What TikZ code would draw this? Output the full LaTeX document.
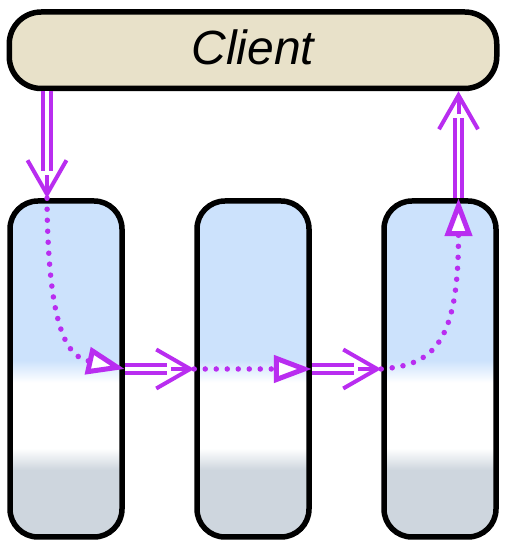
\documentclass[tikz,border=0pt]{standalone}
\usepackage{fontspec}
\setmainfont{Liberation Sans}
\usetikzlibrary{positioning, arrows.meta, calc}

\definecolor{clientfill}{RGB}{232,225,201}
\definecolor{colblue}{RGB}{204,226,252}
\definecolor{colgray}{RGB}{206,214,222}
\definecolor{flow}{RGB}{185,45,240}

% 列的分段渐变 (自下而上)
\pgfdeclareverticalshading{colbands}{100bp}{color(0bp)=(colgray); color(35bp)=(colgray); color(38.2bp)=(white); color(48bp)=(white); color(51.3bp)=(colblue); color(100bp)=(colblue)}

\tikzset{
    box/.style={draw=black, line width=5.5pt, inner sep=0pt},
    clientbox/.style={box, fill=clientfill, rounded corners=32pt, minimum width=487.5pt, minimum height=76.5pt,
        text depth=6pt, font=\fontsize{48}{56}\selectfont\itshape},
    column/.style={box, rounded corners=28pt, minimum width=112pt, minimum height=336pt, shading=colbands},
    shaft/.style={draw=flow, double=white, double distance=3.5pt, line width=4pt},
    tipline/.style={draw=flow, line width=4pt, -{Straight Barb[length=34pt, width=39pt]}},
    dotline/.style={draw=flow, line width=5.5pt, line cap=round, dash pattern=on 0pt off 11pt,
        -{Triangle[length=38pt, width=27pt, line width=5pt, fill=white]}}
}

% 双线箭头: 双线杆 + 单线尖
\newcommand\flowarrow[2]{%
    \draw[shaft, shorten >=27pt] (#1) -- (#2);
    \draw[tipline] ($(#2)!23pt!(#1)$) -- (#2);
}

\begin{document}
\begin{tikzpicture}[x=1pt, y=1pt]

    \useasboundingbox (0,0) rectangle (510,549);

    % --- 三列与客户端 ---
    \node[column] (s1) at (66,180) {};
    \node[column, right=69.5pt of s1] (s2) {};
    \node[column, right=69.5pt of s2] (s3) {};
    \node[clientbox, above=107pt of s2] (client) {Client};

    % 进出点
    \coordinate (inTop) at ([xshift=-19pt]s1.north);
    \coordinate (inSrc) at (inTop |- client.south);
    \coordinate (outBot) at ([xshift=18.5pt]s3.north);
    \coordinate (outDst) at (outBot |- client.south);

    % --- 列内点线 ---
    \draw[dotline] (inTop) .. controls +(1,-141) and +(-54,12) .. (s1.east);
    \draw[dotline] (s2.west) -- (s2.east);
    \draw[dotline] (s3.west) .. controls +(51,4) and +(0,-147) .. (outBot);

    % --- 双线箭头 ---
    \flowarrow{inSrc}{inTop}
    \flowarrow{s1.east}{s2.west}
    \flowarrow{s2.east}{s3.west}
    \flowarrow{outBot}{outDst}

\end{tikzpicture}
\end{document}
